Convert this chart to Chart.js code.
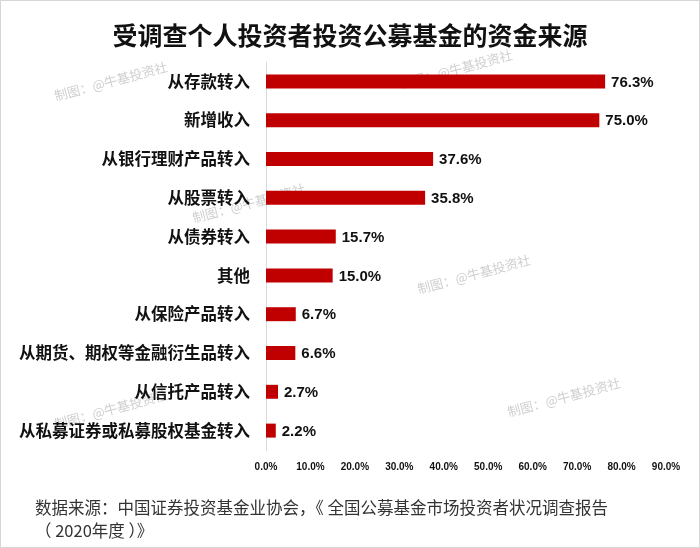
<!DOCTYPE html>
<html>
<head>
<meta charset="utf-8">
<script src="https://cdn.jsdelivr.net/npm/chart.js@4/dist/chart.umd.min.js"></script>
<style>
  html, body { margin: 0; padding: 0; background: #fff; }
  #wrap { width: 700px; height: 548px; position: relative; box-sizing: border-box; border: 1px solid #d6d6d6; }
  canvas { display: block; }
</style>
</head>
<body>
<div id="wrap"><canvas id="chartCanvas" width="698" height="546"></canvas></div>
<script>
const categories = [
  "从存款转入", "新增收入", "从银行理财产品转入", "从股票转入", "从债券转入",
  "其他", "从保险产品转入", "从期货、期权等金融衍生品转入", "从信托产品转入", "从私募证券或私募股权基金转入"
];
const values = [76.3, 75.0, 37.6, 35.8, 15.7, 15.0, 6.7, 6.6, 2.7, 2.2];
const titleText = "受调查个人投资者投资公募基金的资金来源";
const sourceLines = [
  "数据来源：中国证券投资基金业协会，《 全国公募基金市场投资者状况调查报告",
  "（ 2020年度 ）》"
];
const watermark = "制图：@牛基投资社";

const FONT = "'Liberation Sans', Arial, 'Noto Sans CJK SC', sans-serif";

const textPlugin = {
  id: "texts",
  beforeDraw(chart) {
    const c = chart.ctx;
    c.save();
    // watermarks
    c.fillStyle = "rgba(160,160,160,0.5)";
    c.font = "13px 'Noto Sans CJK SC', sans-serif";
    [[55, 100], [400, 88], [193, 222], [418, 293], [55, 428], [508, 416]].forEach(([x, y]) => {
      c.save();
      c.translate(x, y);
      c.rotate(-0.26);
      c.fillText(watermark, 0, 0);
      c.restore();
    });
    c.restore();
  },
  afterDraw(chart) {
    const c = chart.ctx;
    c.save();
    c.fillStyle = "#111";
    c.font = "bold 25px 'Noto Sans CJK SC', sans-serif";
    c.textAlign = "center";
    c.textBaseline = "middle";
    c.fillText(titleText, 349, 34);

    c.fillStyle = "#333";
    c.font = "16.5px 'Noto Sans CJK SC', sans-serif";
    c.textAlign = "left";
    c.fillText(sourceLines[0], 34, 507);
    c.fillText(sourceLines[1], 34, 530);
    c.restore();
  },
  afterDatasetsDraw(chart) {
    const c = chart.ctx;
    const meta = chart.getDatasetMeta(0);
    c.save();
    c.fillStyle = "#111";
    c.font = "bold 15px " + FONT;
    c.textAlign = "left";
    c.textBaseline = "middle";
    meta.data.forEach((bar, i) => {
      c.fillText(values[i].toFixed(1) + "%", bar.x + 6, bar.y + 1);
    });
    c.restore();
  }
};

new Chart(document.getElementById("chartCanvas").getContext("2d"), {
  type: "bar",
  data: {
    labels: categories,
    datasets: [{
      data: values,
      backgroundColor: "#c00000",
      barPercentage: 0.72,
      categoryPercentage: 0.5
    }]
  },
  options: {
    indexAxis: "y",
    responsive: false,
    animation: false,
    layout: { padding: { top: 61, right: 33, left: 0, bottom: 0 } },
    plugins: { legend: { display: false }, tooltip: { enabled: false }, title: { display: false } },
    scales: {
      x: {
        min: 0, max: 90,
        ticks: {
          stepSize: 10,
          callback: v => v.toFixed(1) + "%",
          color: "#111",
          font: { family: FONT, size: 10, weight: "bold" },
          padding: 11,
          maxRotation: 0
        },
        grid: { display: false, drawTicks: false },
        border: { display: false },
        afterFit: s => { s.height = 97; }
      },
      y: {
        ticks: {
          color: "#111",
          font: { family: "'Noto Sans CJK SC', sans-serif", size: 16.5, weight: "bold" },
          padding: 16
        },
        grid: { display: false, drawTicks: false },
        border: { display: true, color: "#d9d9d9", width: 1 },
        afterFit: s => { s.width = 265; }
      }
    }
  },
  plugins: [textPlugin]
});
</script>
</body>
</html>
